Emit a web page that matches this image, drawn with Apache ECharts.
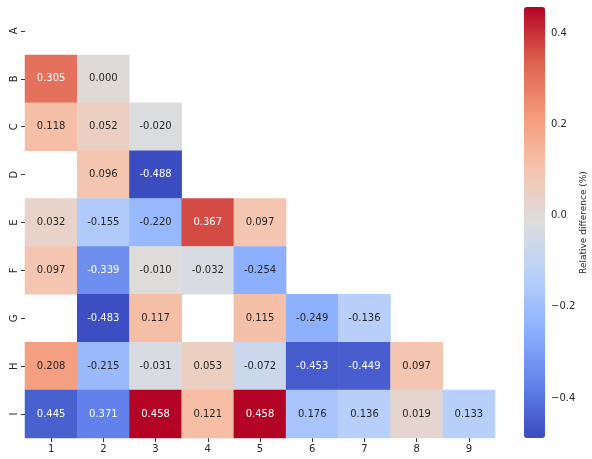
<!DOCTYPE html>
<html>
<head>
<meta charset="utf-8">
<script src="https://cdn.jsdelivr.net/npm/echarts@6/dist/echarts.min.js"></script>
<style>
  html, body { margin: 0; padding: 0; background: #fff; }
  #chart { width: 592px; height: 459px; }
</style>
</head>
<body>
<div id="chart"></div>
<script>
// Lower-triangle heatmap of relative differences, coolwarm scale.
const cols = ['1', '2', '3', '4', '5', '6', '7', '8', '9'];
const rows = ['A', 'B', 'C', 'D', 'E', 'F', 'G', 'H', 'I'];

// colour values per row (null = blank cell)
const rowA = [null, null, null, null, null, null, null, null, null];
const rowB = [0.305, 0.000, null, null, null, null, null, null, null];
const rowC = [0.118, 0.052, -0.020, null, null, null, null, null, null];
const rowD = [null, 0.096, -0.488, null, null, null, null, null, null];
const rowE = [0.032, -0.155, -0.220, 0.367, 0.097, null, null, null, null];
const rowF = [0.097, -0.339, -0.010, -0.032, -0.254, null, null, null, null];
const rowG = [null, -0.483, 0.117, null, 0.115, -0.249, -0.136, null, null];
const rowH = [0.208, -0.215, -0.031, 0.053, -0.072, -0.453, -0.449, 0.097, null];
const rowI = [-0.445, -0.371, 0.458, 0.121, 0.458, -0.176, -0.136, 0.019, -0.133];
const matrix = [rowA, rowB, rowC, rowD, rowE, rowF, rowG, rowH, rowI];

// the bottom row's annotations are printed without their sign
const unsignedRows = ['I'];

const colorTicks = [-0.4, -0.2, 0, 0.2, 0.4];
const vMin = -0.488, vMax = 0.458;

const coolwarm = ['#3b4cc0', '#6282ea', '#8db0fe', '#b8d0f9', '#dddddd',
                  '#f5c4ad', '#f49a7b', '#de604d', '#b40426'];

const data = [];
matrix.forEach((r, yi) => r.forEach((v, xi) => {
  if (v === null) return;
  const txt = unsignedRows.includes(rows[yi]) ? Math.abs(v).toFixed(3) : v.toFixed(3);
  data.push({
    value: [xi, yi, v],
    label: { formatter: txt, color: Math.abs(v) > 0.3 ? '#ffffff' : '#262626' },
  });
}));

const font = 'DejaVu Sans';
const chart = echarts.init(document.getElementById('chart'));
chart.setOption({
  animation: false,
  textStyle: { fontFamily: font },
  grid: [
    { left: 25, right: 97, top: 7, bottom: 21 },
    { left: 524, width: 21, top: 7, height: 431 },
  ],
  xAxis: [{
    gridIndex: 0, type: 'category', data: cols, position: 'bottom',
    axisLine: { show: false },
    axisTick: { show: true, alignWithLabel: true, length: 4, lineStyle: { color: '#333' } },
    axisLabel: { color: '#262626', fontSize: 10, margin: 6, fontFamily: font },
    splitLine: { show: false },
  }, {
    gridIndex: 1, type: 'value', show: false, min: 0, max: 1,
  }],
  yAxis: [{
    gridIndex: 0, type: 'category', data: rows, inverse: true,
    axisLine: { show: false },
    axisTick: { show: true, alignWithLabel: true, length: 4, lineStyle: { color: '#333' } },
    axisLabel: { color: '#262626', fontSize: 10, margin: 6, rotate: 90, fontFamily: font },
    splitLine: { show: false },
  }, {
    gridIndex: 1, type: 'value', position: 'right', min: vMin, max: vMax,
    axisLine: { show: false },
    splitLine: { show: false },
    axisTick: { show: true, length: 4, customValues: colorTicks, lineStyle: { color: '#333' } },
    axisLabel: {
      show: true, customValues: colorTicks, color: '#262626', fontSize: 10, margin: 6,
      fontFamily: font, formatter: v => (v < 0 ? '\u2212' : '') + Math.abs(v).toFixed(1),
    },
    name: 'Relative difference (%)', nameLocation: 'middle', nameRotate: 90, nameGap: 33,
    nameTextStyle: { color: '#262626', fontSize: 9, fontFamily: font, padding: [0, 0, 0, 0] },
  }],
  visualMap: {
    type: 'continuous', seriesIndex: 0, min: vMin, max: vMax,
    calculable: false, hoverLink: false, realtime: false,
    orient: 'vertical', left: 524, top: 7, itemWidth: 21, itemHeight: 431, padding: 0,
    inRange: { color: coolwarm },
  },
  series: [{
    type: 'heatmap', xAxisIndex: 0, yAxisIndex: 0, data,
    label: { show: true, fontSize: 10, fontFamily: font },
    itemStyle: { borderWidth: 0 },
    emphasis: { disabled: true },
  }],
});
</script>
</body>
</html>
